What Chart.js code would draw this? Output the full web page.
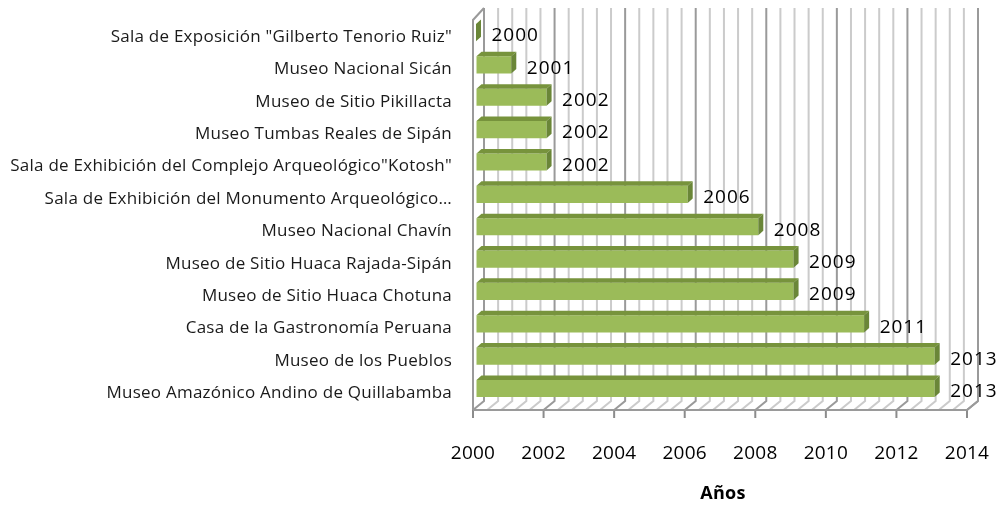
<!DOCTYPE html>
<html lang="es">
<head>
<meta charset="utf-8">
<title>Museos y salas por año</title>
<script src="https://cdn.jsdelivr.net/npm/chart.js@4.4.1/dist/chart.umd.min.js"></script>
<style>
  html, body { margin: 0; padding: 0; background: #fff; }
</style>
</head>
<body>
<canvas id="chart" width="1001" height="514"></canvas>
<script>
// --- data --------------------------------------------------------------------
const museums = [
    'Sala de Exposición "Gilberto Tenorio Ruiz"',
    'Museo Nacional Sicán',
    'Museo de Sitio Pikillacta',
    'Museo Tumbas Reales de Sipán',
    'Sala de Exhibición del Complejo Arqueológico"Kotosh"',
    'Sala de Exhibición del Monumento Arqueológico…',
    'Museo Nacional Chavín',
    'Museo de Sitio Huaca Rajada-Sipán',
    'Museo de Sitio Huaca Chotuna',
    'Casa de la Gastronomía Peruana',
    'Museo de los Pueblos',
    'Museo Amazónico Andino de Quillabamba',
];
const years = [2000, 2001, 2002, 2002, 2002, 2006, 2008, 2009, 2009, 2011, 2013, 2013];
const axisYears = [2000, 2002, 2004, 2006, 2008, 2010, 2012, 2014];
const axisTitle = 'Años';

// --- 3D look (Excel-style walls, floor and bar faces) ---------------------------
const MINOR_PER_MAJOR = 5;
const WALL = { frontX: -3, frontY: 5.3, backX: 8, backY: -3.7, topBack: -8.4, topFront: 3.6 };
const BAR_DX = 5;
const BAR_DY = 4.5;
const FONT = '"Open Sans", sans-serif';

Chart.defaults.font.family = FONT;

function _gridValues() {
    const out = [];
    for (let i = 0; i < axisYears.length - 1; i++) {
        const a = axisYears[i], b = axisYears[i + 1];
        for (let k = 0; k < MINOR_PER_MAJOR; k++) {
            out.push({ v: a + (b - a) * k / MINOR_PER_MAJOR, major: k === 0 });
        }
    }
    out.push({ v: axisYears[axisYears.length - 1], major: true });
    return out;
}

// slightly wider text, closer to the stretched Calibri of the original
const spacingPlugin = {
    id: 'spacing',
    beforeUpdate(chart) { chart.ctx.letterSpacing = '0.25px'; },
    beforeDraw(chart) { chart.ctx.letterSpacing = '0.25px'; },
};

const wallPlugin = {
    id: 'wall3d',
    beforeDatasetsDraw(chart) {
        const { ctx, chartArea: a, scales: { x } } = chart;
        const fy = a.bottom + WALL.frontY;
        const by = a.bottom + WALL.backY;
        const ty = a.top + WALL.topBack;
        const tfy = a.top + WALL.topFront;
        const L = a.left, R = a.right;
        ctx.save();

        // floor + left wall background
        ctx.fillStyle = '#fff';
        ctx.beginPath();
        ctx.moveTo(L + WALL.frontX, fy);
        ctx.lineTo(R + WALL.frontX, fy);
        ctx.lineTo(R + WALL.backX, by);
        ctx.lineTo(L + WALL.backX, by);
        ctx.closePath();
        ctx.fill();
        ctx.beginPath();
        ctx.moveTo(L + WALL.frontX, fy);
        ctx.lineTo(L + WALL.frontX, tfy);
        ctx.lineTo(L + WALL.backX, ty);
        ctx.lineTo(L + WALL.backX, by);
        ctx.closePath();
        ctx.fill();

        // floor depth lines + back wall grid
        ctx.lineWidth = 2;
        for (const g of _gridValues()) {
            const px = x.getPixelForValue(g.v);
            ctx.strokeStyle = g.major ? '#9a9a9a' : '#cbcbcb';
            ctx.beginPath();
            ctx.moveTo(px + WALL.frontX, fy);
            ctx.lineTo(px + WALL.backX, by);
            ctx.lineTo(px + WALL.backX, ty);
            ctx.stroke();
            if (g.major) {
                ctx.strokeStyle = '#8c8c8c';
                ctx.beginPath();
                ctx.moveTo(px + WALL.frontX, fy);
                ctx.lineTo(px + WALL.frontX, fy + 8);
                ctx.stroke();
            }
        }

        // left wall outline and floor edges
        ctx.strokeStyle = '#9a9a9a';
        ctx.beginPath();
        ctx.moveTo(L + WALL.frontX, fy);
        ctx.lineTo(L + WALL.frontX, tfy);
        ctx.lineTo(L + WALL.backX, ty);
        ctx.stroke();
        ctx.beginPath();
        ctx.moveTo(L + WALL.frontX, fy);
        ctx.lineTo(R + WALL.frontX, fy);
        ctx.lineTo(R + WALL.backX, by);
        ctx.stroke();
        ctx.restore();
    },
    afterDatasetsDraw(chart) {
        const { ctx, chartArea: a } = chart;
        const meta = chart.getDatasetMeta(0);
        ctx.save();
        meta.data.forEach((bar, i) => {
            const { x, y, base, height } = bar.getProps(['x', 'y', 'base', 'height'], true);
            const top = y - height / 2;
            const bottom = y + height / 2;
            const left = Math.max(Math.min(x, base), a.left);
            const right = Math.max(x, base);
            // top face
            ctx.fillStyle = '#77933c';
            ctx.beginPath();
            ctx.moveTo(left, top);
            ctx.lineTo(right, top);
            ctx.lineTo(right + BAR_DX, top - BAR_DY);
            ctx.lineTo(left + BAR_DX, top - BAR_DY);
            ctx.closePath();
            ctx.fill();
            // side face
            ctx.fillStyle = '#6a8638';
            ctx.beginPath();
            ctx.moveTo(right, top);
            ctx.lineTo(right + BAR_DX, top - BAR_DY);
            ctx.lineTo(right + BAR_DX, bottom - BAR_DY);
            ctx.lineTo(right, bottom);
            ctx.closePath();
            ctx.fill();
            // value label
            ctx.letterSpacing = '1px';
            ctx.fillStyle = '#000';
            ctx.font = '19px ' + FONT;
            ctx.textAlign = 'left';
            ctx.textBaseline = 'alphabetic';
            ctx.fillText(String(years[i]), right + 15.5, y + 8.8);
        });
        ctx.restore();
    },
};

new Chart(document.getElementById('chart'), {
    type: 'bar',
    data: {
        labels: museums,
        datasets: [{
            data: years,
            base: axisYears[0],
            backgroundColor: '#9bbb59',
            borderWidth: 0,
            barPercentage: 1,
            categoryPercentage: 0.53,
        }],
    },
    options: {
        indexAxis: 'y',
        responsive: false,
        animation: false,
        layout: { padding: { top: 16.4, right: 31, left: 0, bottom: 0 } },
        plugins: {
            legend: { display: false },
            tooltip: { enabled: false },
        },
        scales: {
            x: {
                type: 'linear',
                min: axisYears[0],
                max: axisYears[axisYears.length - 1],
                afterBuildTicks: s => { s.ticks = axisYears.map(v => ({ value: v })); },
                ticks: {
                    font: { size: 19 }, color: '#000', padding: 37.4,
                    labelOffset: -3, maxRotation: 0,
                    callback: v => String(v),
                },
                grid: { drawOnChartArea: false, drawTicks: false },
                border: { display: false },
                title: {
                    display: true, text: axisTitle, color: '#000',
                    font: { size: 18, weight: 'bold' },
                    padding: { top: 0, bottom: 9.4 },
                },
                afterFit: s => { s.height = 109.3; s.paddingLeft = 0; s.paddingRight = 0; },
            },
            y: {
                type: 'category',
                ticks: { autoSkip: false, font: { size: 17 }, color: '#1a1a1a', padding: 24, labelOffset: 4.6 },
                grid: { display: false, drawTicks: false },
                border: { display: false },
                afterFit: s => { s.width = 476; s.paddingTop = 0; s.paddingBottom = 0; },
            },
        },
    },
    plugins: [spacingPlugin, wallPlugin],
});
</script>
</body>
</html>
